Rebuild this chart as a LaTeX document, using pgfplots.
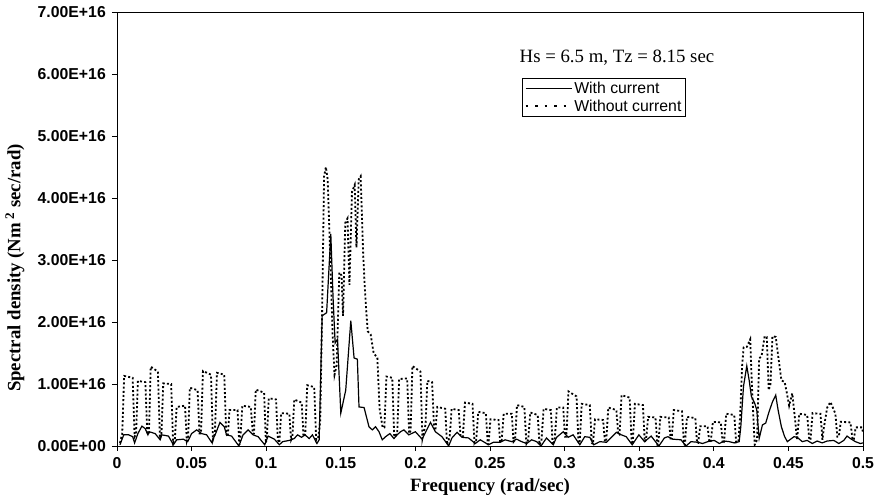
\documentclass[border=0pt]{standalone}
\usepackage{fontspec}
\setmainfont{Liberation Serif}
\newfontfamily\arial{Liberation Sans}
\usepackage{pgfplots}
\pgfplotsset{compat=1.18}

\begin{document}
\begin{tikzpicture}
\begin{axis}[
  scale only axis, width=746pt, height=434pt,
  xmin=0, xmax=0.5, ymin=0, ymax=7,
  xtick={0,0.05,0.1,0.15,0.2,0.25,0.3,0.35,0.4,0.45,0.5},
  xticklabels={0,0.05,0.1,0.15,0.2,0.25,0.3,0.35,0.4,0.45,0.5},
  ytick={0,1,2,3,4,5,6,7},
  yticklabels={0.00E+00,1.00E+16,2.00E+16,3.00E+16,4.00E+16,5.00E+16,6.00E+16,7.00E+16},
  tick align=outside, xtick pos=bottom, ytick pos=left, major tick length=5pt,
  tick style={black, line width=0.8pt},
  axis line style={black, line width=0.9pt},
  ticklabel style={font=\arial\bfseries\fontsize{15.8}{16}\selectfont, inner sep=0pt},
  xticklabel style={anchor=north, yshift=-6pt},
  yticklabel style={anchor=east, xshift=-6pt},
  xlabel={\bfseries Frequency (rad/sec)},
  ylabel={\bfseries Spectral density (Nm\,\textsuperscript{2} sec/rad)},
  label style={font=\fontsize{18.8}{20}\selectfont},
  xlabel style={at={(rel axis cs:0.5,0)}, anchor=center, yshift=-41pt},
  ylabel style={at={(rel axis cs:0,0.41)}, anchor=center, yshift=102pt},
  legend image code/.code={\draw[#1] (0pt,0pt) -- (46pt,0pt);},
  legend style={at={(rel axis cs:0.5429,0.848)}, anchor=north west, draw=black, line width=0.8pt,
    font=\arial\fontsize{15.8}{17}\selectfont, inner xsep=2pt, inner ysep=2pt,
    nodes={inner sep=1.5pt}, row sep=2pt},
  legend cell align=left,
]
\coordinate (sw) at (rel axis cs:0,0);
\coordinate (ne) at (rel axis cs:1,1);
\addlegendimage{black, line width=1pt}
\addlegendentry{With current}
\addlegendimage{black, line width=2.4pt, dash pattern=on 2.5pt off 7pt}
\addlegendentry{Without current}
\node[font=\fontsize{18.8}{20}\selectfont] at (rel axis cs:0.6702,0.894) {Hs = 6.5 m, Tz = 8.15 sec};

% Without current (dotted)
\addplot[forget plot, black, line width=1.8pt, dash pattern=on 2pt off 2.2pt] coordinates {
(0.002,0.05)(0.0035,0.2)
(0.0048,1.13)(0.0105,1.10)(0.0118,0.15)(0.0128,0.2)
(0.0140,1.05)(0.0190,1.03)(0.0203,0.2)(0.0214,0.2)
(0.0226,1.28)(0.0274,1.20)(0.0288,0.12)(0.0298,0.2)
(0.0310,1.01)(0.0363,1.00)(0.0376,0.05)(0.0388,0.12)
(0.0400,0.63)(0.0456,0.65)(0.0468,0.08)(0.0477,0.15)
(0.0488,0.94)(0.0540,0.90)(0.0553,0.2)(0.0563,0.2)
(0.0576,1.21)(0.0630,1.15)(0.0643,0.1)(0.0656,0.2)
(0.0670,1.18)(0.0719,1.15)(0.0732,0.2)(0.0742,0.15)
(0.0754,0.58)(0.0808,0.58)(0.0820,0.02)(0.0828,0.15)
(0.0840,0.65)(0.0897,0.63)(0.0910,0.2)(0.0918,0.2)
(0.0930,0.91)(0.0986,0.86)(0.0998,0.05)(0.1005,0.15)
(0.1017,0.77)(0.1066,0.75)(0.1078,0.1)(0.1088,0.05)
(0.1100,0.53)(0.1155,0.52)(0.1167,0.1)(0.1176,0.15)
(0.1188,0.75)(0.1238,0.70)(0.1250,0.15)(0.1262,0.2)
(0.1275,0.98)(0.1322,0.95)(0.1335,0.1)(0.1350,0.15)
(0.1362,0.4)(0.1375,2.2)(0.1388,4.35)(0.1400,4.5)(0.1412,4.3)(0.1430,3.0)(0.1445,1.8)(0.1458,1.15)
(0.1472,1.3)(0.1490,2.8)(0.1505,2.75)(0.1515,2.1)(0.1530,3.6)(0.1545,3.67)(0.1558,2.6)
(0.1575,4.1)(0.1593,4.21)(0.1605,3.2)(0.1620,4.3)(0.1633,4.35)(0.1650,3.1)(0.1662,2.5)
(0.1680,1.85)(0.1700,1.8)(0.1720,1.5)(0.1745,1.42)(0.1760,0.6)(0.1780,0.3)(0.1792,0.3)
(0.1806,1.12)(0.1845,1.10)(0.1858,0.15)(0.1878,0.2)
(0.1891,1.08)(0.1945,1.09)(0.1958,0.2)(0.1968,0.25)
(0.1980,1.29)(0.2034,1.20)(0.2047,0.12)(0.2068,0.35)
(0.2080,1.05)(0.2112,1.03)(0.2125,0.3)(0.2134,0.25)
(0.2147,0.63)(0.2200,0.60)(0.2212,0.02)(0.2230,0.15)
(0.2243,0.60)(0.2290,0.58)(0.2303,0.15)(0.2318,0.15)
(0.2332,0.70)(0.2383,0.68)(0.2396,0.05)(0.2408,0.1)
(0.2421,0.55)(0.2472,0.53)(0.2485,0.03)(0.2490,0.03)
(0.2503,0.43)(0.2557,0.42)(0.2568,0.06)(0.2578,0.08)
(0.2592,0.52)(0.2646,0.52)(0.2658,0.07)(0.2668,0.1)
(0.2681,0.66)(0.2730,0.63)(0.2744,0.04)(0.2756,0.1)
(0.2770,0.54)(0.2820,0.50)(0.2832,0.02)(0.2845,0.08)
(0.2859,0.60)(0.2908,0.58)(0.2920,0.02)(0.2934,0.1)
(0.2948,0.62)(0.2991,0.62)(0.3003,0.15)(0.3012,0.15)
(0.3026,0.88)(0.3080,0.80)(0.3093,0.05)(0.3101,0.05)
(0.3115,0.68)(0.3169,0.66)(0.3182,0.05)(0.3190,0.03)
(0.3204,0.43)(0.3258,0.42)(0.3270,0.07)(0.3279,0.08)
(0.3293,0.62)(0.3347,0.58)(0.3360,0.18)(0.3368,0.18)
(0.3382,0.82)(0.3436,0.78)(0.3450,0.03)(0.3457,0.05)
(0.3471,0.68)(0.3525,0.66)(0.3537,0.07)(0.3546,0.1)
(0.3560,0.47)(0.3609,0.46)(0.3622,0.02)(0.3628,0.03)
(0.3642,0.47)(0.3698,0.46)(0.3710,0.12)(0.3718,0.12)
(0.3732,0.58)(0.3787,0.56)(0.3800,0.03)(0.3806,0.02)
(0.3820,0.47)(0.3876,0.45)(0.3888,0.05)(0.3895,0.05)
(0.3909,0.32)(0.3958,0.32)(0.3970,0.06)(0.3980,0.08)
(0.3994,0.39)(0.4047,0.38)(0.4060,0.04)(0.4069,0.07)
(0.4083,0.52)(0.4137,0.50)(0.4150,0.06)
(0.4165,0.07)(0.4177,0.5)(0.4190,1.3)(0.4200,1.59)(0.4222,1.6)(0.4244,1.72)(0.4255,1.0)(0.4274,0.02)
(0.4290,0.1)(0.4304,1.41)(0.4320,1.45)(0.4341,1.77)(0.4355,1.76)(0.4368,0.9)(0.4380,1.0)
(0.4393,1.77)(0.4415,1.76)(0.4435,1.39)(0.4453,1.06)(0.4475,1.03)(0.4490,0.85)(0.4505,0.65)
(0.4526,0.85)(0.4545,0.42)(0.4558,0.1)
(0.4573,0.52)(0.4626,0.50)(0.4640,0.1)(0.4648,0.1)
(0.4662,0.53)(0.4715,0.52)(0.4728,0.1)(0.4738,0.3)
(0.4760,0.62)(0.4782,0.71)(0.4815,0.52)(0.4828,0.15)(0.4838,0.15)
(0.4851,0.39)(0.4916,0.38)(0.4930,0.1)(0.4938,0.1)
(0.4951,0.30)(0.4994,0.30)(0.5,0.2)
};

% With current (solid)
\addplot[forget plot, black, line width=1.2pt] coordinates {
(0.002,0.02)(0.0045,0.18)(0.0078,0.18)(0.0105,0.15)(0.0118,0.05)(0.014,0.2)(0.0167,0.32)
(0.0189,0.28)(0.0207,0.18)(0.0216,0.23)(0.0256,0.2)(0.0289,0.1)(0.03,0.18)(0.0345,0.16)
(0.0378,0.02)(0.04,0.1)(0.0445,0.11)(0.0474,0.07)(0.05,0.2)(0.0534,0.26)(0.0567,0.2)
(0.0601,0.18)(0.0634,0.06)(0.0661,0.2)(0.069,0.38)(0.0719,0.31)(0.0734,0.18)(0.0768,0.16)
(0.0817,0.0)(0.0845,0.18)(0.0879,0.26)(0.0912,0.18)(0.0946,0.15)(0.099,0.02)(0.1013,0.16)
(0.1055,0.11)(0.1088,0.02)(0.111,0.07)(0.1155,0.09)(0.1188,0.12)(0.121,0.18)(0.1237,0.14)
(0.126,0.18)(0.1288,0.12)(0.131,0.18)(0.134,0.04)(0.1355,0.1)(0.1375,2.1)(0.1405,2.15)
(0.1433,3.42)(0.1448,2.4)(0.1462,1.66)(0.1478,1.72)(0.150,0.53)(0.1533,0.9)(0.1567,2.02)
(0.1589,1.42)(0.1611,1.40)(0.1622,0.63)(0.1656,0.62)(0.1689,0.31)(0.1711,0.26)(0.1733,0.31)
(0.1756,0.23)(0.1778,0.1)(0.18,0.15)(0.1829,0.2)(0.1856,0.12)(0.1878,0.18)(0.19,0.23)
(0.1923,0.26)(0.1956,0.18)(0.2,0.23)(0.2045,0.11)(0.2101,0.38)(0.2134,0.23)(0.2178,0.15)
(0.2223,0.0)(0.2245,0.13)(0.2279,0.22)(0.2312,0.14)(0.2356,0.13)(0.2401,0.04)(0.2435,0.1)
(0.249,0.02)(0.2523,0.06)(0.2568,0.06)(0.2601,0.1)(0.2646,0.07)(0.2679,0.11)(0.2712,0.07)
(0.2746,0.04)(0.2779,0.1)(0.2813,0.07)(0.2842,0.0)(0.2879,0.13)(0.2924,0.02)(0.2946,0.14)
(0.2991,0.23)(0.3024,0.14)(0.3057,0.18)(0.3102,0.02)(0.3135,0.15)(0.3169,0.14)(0.3195,0.02)
(0.3236,0.07)(0.328,0.06)(0.3302,0.11)(0.3347,0.22)(0.338,0.18)(0.3413,0.15)(0.3453,0.02)
(0.3498,0.18)(0.3536,0.07)(0.358,0.16)(0.3632,0.0)(0.3669,0.13)(0.3692,0.15)(0.3725,0.11)
(0.378,0.1)(0.3814,0.0)(0.3847,0.07)(0.3892,0.06)(0.3925,0.04)(0.3959,0.07)(0.4003,0.09)
(0.4037,0.04)(0.407,0.08)(0.4103,0.07)(0.4137,0.05)(0.417,0.07)(0.4181,0.31)(0.4199,0.96)
(0.4221,1.29)(0.4237,1.06)(0.4252,0.8)(0.4274,0.69)(0.4288,0.58)(0.4304,0.12)(0.4326,0.34)
(0.4348,0.37)(0.437,0.55)(0.4393,0.71)(0.4415,0.82)(0.4431,0.58)(0.4453,0.31)(0.4475,0.15)
(0.4493,0.07)(0.4537,0.15)(0.4559,0.14)(0.4593,0.07)(0.4626,0.09)(0.466,0.04)(0.4693,0.08)
(0.4726,0.05)(0.476,0.08)(0.4804,0.09)(0.4838,0.04)(0.4871,0.09)(0.4893,0.16)(0.4916,0.12)
(0.4949,0.07)(0.4982,0.04)(0.5,0.05)
};
\end{axis}
\pgfresetboundingbox
\path ([shift={(-117pt,-51pt)}]sw) rectangle ([shift={(12pt,12pt)}]ne);
\end{tikzpicture}
\end{document}
